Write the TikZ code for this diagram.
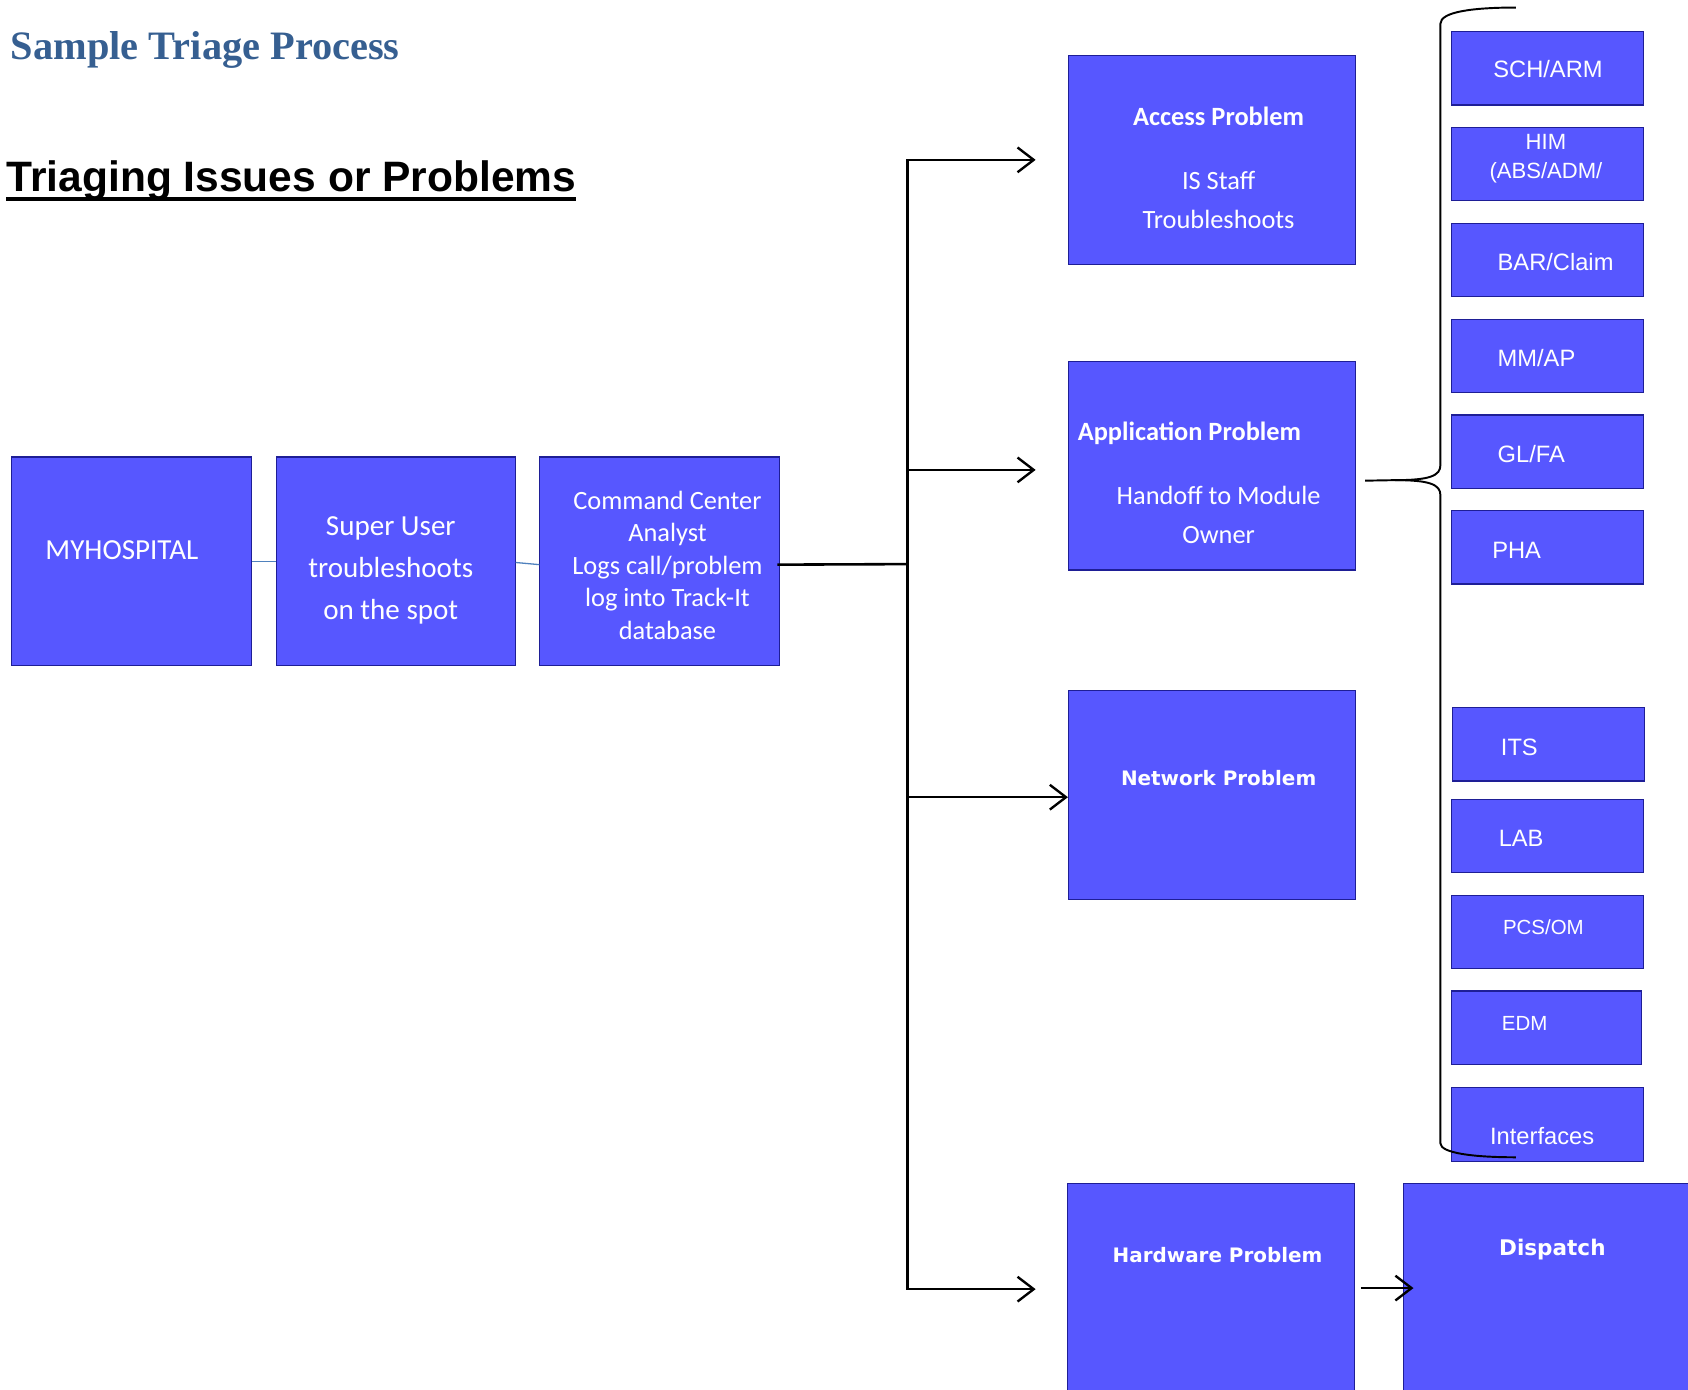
\documentclass[tikz,border=0pt]{standalone}
\usepackage{fontspec}
\setmainfont{Carlito}
\newfontfamily\arialfont{Liberation Sans}
\newfontfamily\titlefont{Liberation Serif}
\newfontfamily\verdfont{DejaVu Sans}
\usetikzlibrary{arrows.meta}
\definecolor{boxfill}{RGB}{87,87,255}
\definecolor{boxedge}{RGB}{30,30,150}
\definecolor{headblue}{RGB}{54,95,145}
\definecolor{linkblue}{RGB}{79,129,189}
\begin{document}
\begin{tikzpicture}[x=1pt,y=-1pt,
  box/.style={draw=boxedge, fill=boxfill, line width=1pt, inner sep=0pt, anchor=north west},
  bigbox/.style={box, minimum width=267pt, minimum height=194pt},
  leftbox/.style={box, minimum width=223pt, minimum height=194pt},
  smallbox/.style={box, minimum width=178pt, minimum height=68pt},
  txt/.style={text=white, inner sep=0pt, align=center, font=\fontsize{24.5}{36}\selectfont},
  onetxt/.style={txt, yshift=-6pt},
  arialtxt/.style={text=white, inner sep=0pt, anchor=mid west, yshift=-6pt, font=\arialfont\fontsize{22}{27}\selectfont},
  verdtxt/.style={text=white, inner sep=0pt, anchor=mid, yshift=-5pt, font=\verdfont\bfseries\fontsize{18.5}{22}\selectfont},
  conn/.style={line width=2.4pt, black},
  arr/.style={conn, -{Straight Barb[length=15pt,width=23pt,line width=2.2pt]}},
  link/.style={line width=1.2pt, linkblue},
  brace/.style={line width=1.8pt, black},
]
\path[use as bounding box] (0,0) rectangle (1568,1291);
\clip (0,0) rectangle (1568,1291);

% titles
\node[anchor=base west, inner sep=0pt, text=headblue, font=\titlefont\bfseries\fontsize{37.5}{44}\selectfont] (head) at (10,55) {Sample Triage Process};
\node[anchor=base west, inner sep=0pt, font=\arialfont\bfseries\fontsize{39.5}{46}\selectfont] (ttl) at (6,178) {Triaging Issues or Problems};
\draw[line width=4pt] ([yshift=-7pt]ttl.base west) -- ([yshift=-7pt]ttl.base east);

% left chain
\node[leftbox] (myh) at (10,424) {};
\node[leftbox, minimum width=222pt] (su) at (256,424) {};
\node[leftbox] (cmd) at (501,424) {};
\node[onetxt, anchor=mid west, font=\fontsize{27}{39}\selectfont] (tmyh) at (42,511) {MYHOSPITAL};
\node[txt, font=\fontsize{27}{39}\selectfont] (tsu) at (363,530) {Super User\\troubleshoots\\on the spot};
\node[txt, font=\fontsize{24.5}{30.3}\selectfont] (tcmd) at (620,525) {Command Center\\Analyst\\Logs call/problem\\log into Track-It\\database};

% problem boxes
\node[bigbox] (access) at (992,51) {};
\node[bigbox] (app) at (992,335) {};
\node[bigbox] (net) at (992,641) {};
\node[bigbox] (hw) at (991,1099) {};
\node[bigbox, minimum width=270pt] (disp) at (1303,1099) {};

\node[onetxt, anchor=mid, font=\bfseries\fontsize{24.5}{30}\selectfont] (tacc) at (1132,108) {Access Problem};
\node[txt] (tacc2) at (1132,186) {IS Staff\\Troubleshoots};
\node[onetxt, anchor=mid west, font=\bfseries\fontsize{24.5}{30}\selectfont] (tapp) at (1001,401) {Application Problem};
\node[txt] (tapp2) at (1132,478) {Handoff to Module\\Owner};
\node[verdtxt] (tnet) at (1132,722) {Network Problem};
\node[verdtxt] (thw) at (1131,1165) {Hardware Problem};
\node[verdtxt, font=\verdfont\bfseries\fontsize{20}{24}\selectfont] (tdisp) at (1442,1159) {Dispatch};

% module boxes
\node[smallbox] (sch) at (1348,29) {};
\node[smallbox] (him) at (1348,118) {};
\node[smallbox] (bar) at (1348,207) {};
\node[smallbox] (mm) at (1348,296) {};
\node[smallbox] (gl) at (1348,385) {};
\node[smallbox] (pha) at (1348,474) {};
\node[smallbox] (its) at (1349,657) {};
\node[smallbox] (lab) at (1348,742) {};
\node[smallbox] (pcs) at (1348,831) {};
\node[smallbox, minimum width=176pt] (edm) at (1348,920) {};
\node[smallbox] (intf) at (1348,1010) {};

\node[arialtxt] (tsch) at (1387,64) {SCH/ARM};
\node[arialtxt, anchor=center, align=center, yshift=0pt, font=\arialfont\fontsize{20.5}{27}\selectfont] (thim) at (1436,141) {HIM\\(ABS/ADM/};
\node[arialtxt] (tbar) at (1391,243) {BAR/Claim};
\node[arialtxt] (tmm) at (1391,332) {MM/AP};
\node[arialtxt] (tgl) at (1391,421) {GL/FA};
\node[arialtxt] (tpha) at (1386,510) {PHA};
\node[arialtxt] (tits) at (1394,693) {ITS};
\node[arialtxt] (tlab) at (1392,778) {LAB};
\node[arialtxt, font=\arialfont\fontsize{19}{23}\selectfont] (tpcs) at (1396,860) {PCS/OM};
\node[arialtxt, font=\arialfont\fontsize{19}{23}\selectfont] (tedm) at (1395,949) {EDM};
\node[arialtxt] (tintf) at (1384,1055) {Interfaces};

% connectors
\draw[link] (myh.east) -- (su.west);
\draw[link] ([yshift=-1pt]su.east) -- ([yshift=-3pt]cmd.west);

\coordinate (j) at (843,524);
\draw[conn] ([xshift=-3pt,yshift=-3pt]cmd.east) -- (j);
\draw[arr, shorten >=30pt] (j) |- (access.west);
\draw[arr, shorten >=30pt] (j) |- ([yshift=-4pt]app.west);
\draw[arr] (j) |- ([yshift=-2pt]net.west);
\draw[arr, shorten >=29pt] (j) |- ([yshift=-1pt]hw.west);
\draw[arr, shorten <=5pt, shorten >=-10pt] (hw.east) -- (disp.west);

% brace
\coordinate (btip) at ([shift={(8,14)}]app.east);
\draw[brace] (btip) -- (1296,446) .. controls (1328,446) and (1338,442) .. (1338,432) -- (1338,22) .. controls (1338,11) and (1368,7) .. (1408,7);
\draw[brace] (1296,446) .. controls (1328,446) and (1338,450) .. (1338,460) -- (1338,1062) .. controls (1338,1071) and (1368,1075) .. (1408,1075);
\end{tikzpicture}
\end{document}
